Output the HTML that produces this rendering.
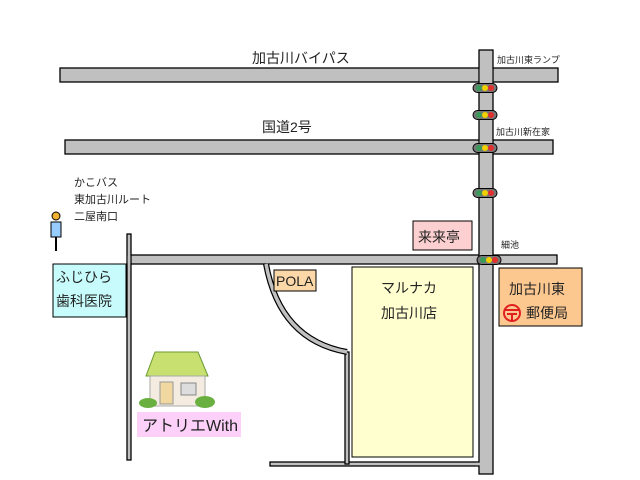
<!DOCTYPE html>
<html><head><meta charset="utf-8"><style>
body{margin:0;background:#fff}
svg{display:block}
text{font-family:"Liberation Sans","Noto Sans CJK JP",sans-serif;fill:#222}
</style></head><body>
<svg width="640" height="480" style="position:absolute;left:0;top:0" xmlns="http://www.w3.org/2000/svg">
<g fill="#c0c0c0" stroke="#000" stroke-width="1.3">
<rect x="60" y="68" width="498" height="14"/>
<rect x="65" y="140" width="488" height="14"/>
<rect x="130" y="255" width="427" height="9"/>
<rect x="127" y="234" width="4" height="226"/>
<rect x="270" y="462" width="210" height="4"/>
<rect x="345" y="352" width="4" height="112"/>
<rect x="479" y="50" width="14" height="424"/>
</g>
<g fill="#c0c0c0">
<rect x="479.7" y="68.7" width="12.6" height="12.6"/>
<rect x="479.7" y="140.7" width="12.6" height="12.6"/>
<rect x="479.7" y="255.7" width="12.6" height="7.6"/>
<rect x="127.7" y="255.7" width="2.6" height="7.6"/>
<rect x="476" y="462.7" width="4" height="2.6"/>
</g>
<path d="M266 264 Q280 340 347 352" fill="none" stroke="#000" stroke-width="6"/>
<path d="M266 264 Q280 340 347 352" fill="none" stroke="#c0c0c0" stroke-width="3.5"/>
<defs><g id="t"><rect x="-12" y="-4.5" width="24" height="9" rx="4.5" fill="#777" stroke="#000"/>
<circle cx="-6" cy="0" r="3" fill="#3a9a5a"/><circle cx="0" cy="0" r="3" fill="#f0d000"/><circle cx="6" cy="0" r="3" fill="#e03030"/></g></defs>
<use href="#t" x="485" y="88"/><use href="#t" x="485" y="115"/><use href="#t" x="485" y="148"/><use href="#t" x="485" y="193"/><use href="#t" x="489" y="260"/>
<g font-size="14">
<text x="252" y="63">加古川バイパス</text>
<text x="262" y="132">国道2号</text>
</g>
<g font-size="9">
<text x="497" y="63">加古川東ランプ</text>
<text x="496" y="135">加古川新在家</text>
<text x="501" y="248">細池</text>
</g>
<g font-size="11">
<text x="74" y="186">かこバス</text>
<text x="74" y="203">東加古川ルート</text>
<text x="74" y="220">二屋南口</text>
</g>
<circle cx="56" cy="216" r="4" fill="#f0b030" stroke="#000"/>
<rect x="51" y="222" width="10" height="15" fill="#9cf" stroke="#000"/>
<line x1="56" y1="237" x2="56" y2="251" stroke="#000" stroke-width="2"/>
<rect x="413" y="221" width="59" height="29" fill="#fcd0d0" stroke="#000"/>
<text x="418" y="242" font-size="14">来来亭</text>
<rect x="53" y="264" width="73" height="53" fill="#c8fcfc" stroke="#000"/>
<text x="56" y="282" font-size="14">ふじひら</text>
<text x="56" y="306" font-size="14">歯科医院</text>
<rect x="274" y="270" width="42" height="21" fill="#fcd8a8" stroke="#000"/>
<text x="276" y="286" font-size="14">POLA</text>
<rect x="352" y="267" width="121" height="190" fill="#ffffd0" stroke="#000"/>
<text x="381" y="293" font-size="14">マルナカ</text>
<text x="381" y="318" font-size="14">加古川店</text>
<rect x="499" y="268" width="83" height="58" fill="#fcc890" stroke="#000"/>
<text x="509" y="294" font-size="14">加古川東</text>
<text x="526" y="318" font-size="14">郵便局</text>
<circle cx="512" cy="313" r="8" fill="none" stroke="#e02020" stroke-width="2"/>
<line x1="505" y1="310" x2="519" y2="310" stroke="#e02020" stroke-width="2"/>
<line x1="507" y1="314" x2="517" y2="314" stroke="#e02020" stroke-width="2"/>
<line x1="512" y1="314" x2="512" y2="320" stroke="#e02020" stroke-width="2"/>
<polygon points="155,352 198,352 208,376 146,376" fill="#c8e070" stroke="#6a9a30"/>
<rect x="150" y="376" width="55" height="30" fill="#f4ece0" stroke="#aaa"/>
<rect x="160" y="382" width="13" height="22" fill="#f0d8a0" stroke="#999"/>
<rect x="181" y="383" width="15" height="12" fill="#ddd" stroke="#888"/>
<ellipse cx="148" cy="403" rx="9" ry="5" fill="#6ab040"/>
<ellipse cx="205" cy="402" rx="10" ry="6" fill="#6ab040"/>
<rect x="137" y="412" width="104" height="25" fill="#fcd0f8"/>
<text x="142" y="431" font-size="16">アトリエWith</text>
</svg>
</body></html>
